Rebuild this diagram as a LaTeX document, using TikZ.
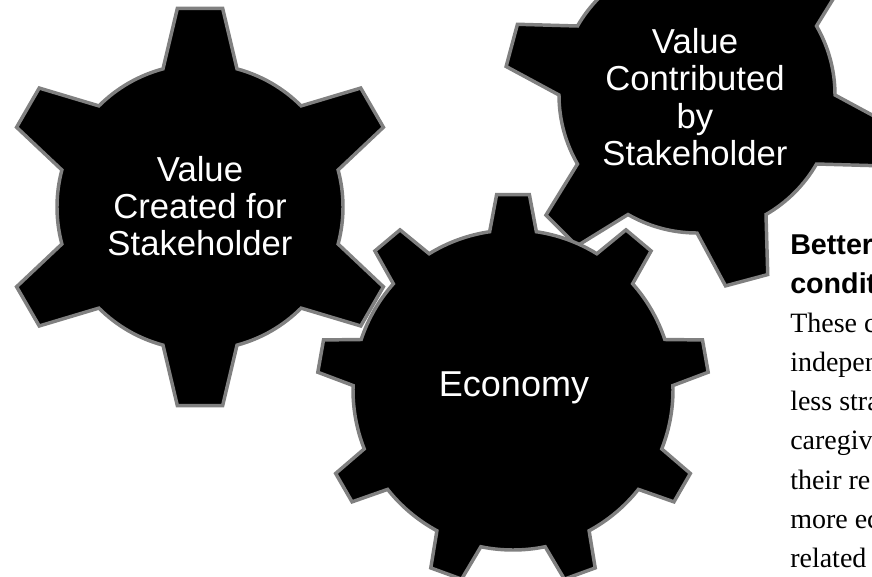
\documentclass[tikz,border=0pt]{standalone}
\usepackage{fontspec}
\setmainfont{Liberation Serif}
\setsansfont{Liberation Sans}
\usetikzlibrary{positioning}

\begin{document}
\begin{tikzpicture}[x=0.75pt, y=0.75pt, font=\sffamily,
  gear/.style={fill=black, draw=black!50, line width=2.6pt},
  cogtext/.style={text=white, align=center,
    font=\sffamily\fontsize{26}{28}\selectfont},
  heading/.style={anchor=base west, inner sep=0pt,
    font=\sffamily\bfseries\fontsize{21.5}{28}\selectfont},
  body/.style={anchor=base west, inner sep=0pt,
    font=\rmfamily\fontsize{21}{29}\selectfont},
  % teeth / root radius / tip radius / half width at root / at tip / first tooth
  pics/cog/.style args={#1/#2/#3/#4/#5/#6}{code={
      \pgfmathsetmacro\pitch{360/#1}
      \draw[gear] (#6-#4:#2)
      \foreach \k in {1,...,#1}{
        -- ({#6+(\k-1)*\pitch-#5}:#3) -- ({#6+(\k-1)*\pitch+#5}:#3)
        -- ({#6+(\k-1)*\pitch+#4}:#2)
        arc[start angle={#6+(\k-1)*\pitch+#4},
            end angle={#6+\k*\pitch-#4}, radius=#2]
      } -- cycle;
    }}]
  \useasboundingbox (0,0) rectangle (872,-576);
  \clip (0,0) rectangle (872,-576);

  % the three cogs
  \pic at (200,-207) {cog=6/143/200/15/6.5/90};
  \pic at (697,-95) {cog=6/138/193/15/6.5/-75};
  \pic at (513,-390) {cog=9/160/196/8.4/4.8/90};

  \node[cogtext] (created) at (200,-206) {Value\\Created for\\Stakeholder};
  \node[cogtext] (contributed) at (695,-97) {Value\\Contributed\\by\\Stakeholder};
  \node[cogtext, font=\sffamily\fontsize{27}{30}\selectfont] (economy)
    at (514,-388) {Economy};

  % side note, cut by the page edge
  \foreach [count=\i] \txt in {Better, condit}
    \node[heading] (head\i) at (790,{-254-39*(\i-1)}) {\txt};
  \foreach [count=\i] \txt in {These c, indepen, less stra, caregiv,
      their re, more ec, related}
    \node[body] (note\i) at (790,{-332-39.3*(\i-1)}) {\txt};
\end{tikzpicture}
\end{document}
